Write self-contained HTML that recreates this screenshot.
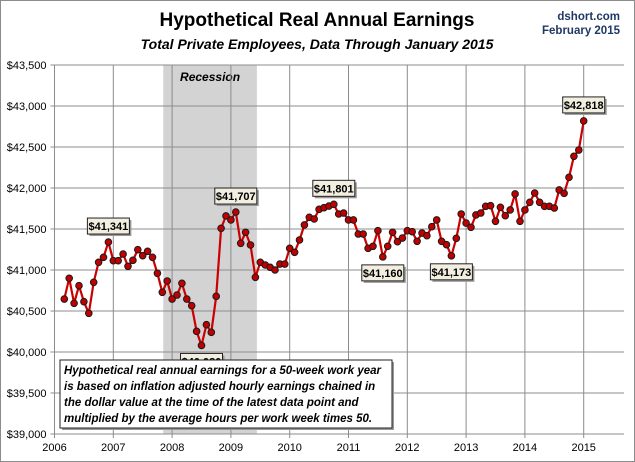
<!DOCTYPE html>
<html><head><meta charset="utf-8"><style>
body{margin:0;background:#fff;}
svg{display:block;font-family:"Liberation Sans",sans-serif;}
</style></head><body>
<svg id="chart" width="635" height="462" viewBox="0 0 635 462" xmlns="http://www.w3.org/2000/svg">
<rect x="0.5" y="0.5" width="634" height="461" fill="#fff" stroke="#8c8c8c"/>
<text x="317" y="26" text-anchor="middle" font-size="19" font-weight="bold" fill="#000">Hypothetical Real Annual Earnings</text>
<text x="317" y="49" text-anchor="middle" font-size="14" font-weight="bold" font-style="italic" fill="#000">Total Private Employees, Data Through January 2015</text>
<text x="620" y="20" text-anchor="end" font-size="11.5" font-weight="bold" fill="#1f3864">dshort.com</text>
<text x="620" y="34" text-anchor="end" font-size="11.5" font-weight="bold" fill="#1f3864">February 2015</text>
<g id="plot"></g>
</svg>
<script>
const yTickValues=[39000,39500,40000,40500,41000,41500,42000,42500,43000,43500];
const yTickLabels=["$39,000","$39,500","$40,000","$40,500","$41,000","$41,500","$42,000","$42,500","$43,000","$43,500"];
const xTickYears=[2006,2007,2008,2009,2010,2011,2012,2013,2014,2015];
const startMonthIndex=2; // March 2006
const earnings=[40646,40899,40594,40809,40614,40472,40850,41094,41155,41341,41114,41114,41195,41045,41118,41248,41175,41228,41155,40960,40728,40866,40646,40695,40838,40646,40565,40252,40080,40333,40240,40679,41509,41660,41610,41707,41326,41460,41305,40911,
41094,41061,41033,41000,41073,41073,41264,41216,41366,41549,41643,41622,41740,41760,41780,41801,41683,41695,41610,41610,41439,41439,41264,41289,41479,41160,41289,41460,41345,41390,41479,41467,41350,41451,41418,
41528,41610,41350,41309,41173,41386,41683,41573,41521,41671,41695,41777,41784,41594,41765,41662,41732,41927,41594,41732,41826,41939,41826,41777,41777,41756,41976,41935,42130,42387,42463,42818];
const recession=[22.2,41.3]; // Dec 2007 - Jun 2009 in months since Jan 2006
const callouts=[[9,"$41,341","above"],[35,"$41,707","above"],[55,"$41,801","above"],[65,"$41,160","below"],[79,"$41,173","below"],[106,"$42,818","above"],[28,"$40,080","below"]];

const NS="http://www.w3.org/2000/svg";
const X0=54.5,X1=624,PXM=4.9,YT=65,YB=434;
const xs=m=>X0+m*PXM;
const ys=v=>YB-(v-39000)/4500*(YB-YT);
const plot=document.getElementById('plot');
function mk(tag,attrs,parent){const e=document.createElementNS(NS,tag);for(const k in attrs)e.setAttribute(k,attrs[k]);(parent||plot).appendChild(e);return e;}

let r=mk('rect',{x:xs(recession[0]),y:YT,width:xs(recession[1])-xs(recession[0]),height:YB-YT,fill:'#d3d3d3'});


let rt=mk('text',{x:(xs(recession[0])+xs(recession[1]))/2,y:YT+16,'text-anchor':'middle','font-size':12,'font-weight':'bold','font-style':'italic',fill:'#000'});
rt.textContent='Recession';



yTickValues.forEach((v,i)=>{
  let g=mk('line',{x1:X0-4,x2:X1,y1:ys(v),y2:ys(v),stroke:'#8c8c8c','stroke-width':1});
  
  
  let t=mk('text',{x:X0-8,y:ys(v)+4,'text-anchor':'end','font-size':11,fill:'#000'});
  t.textContent=yTickLabels[i];
  
  
});
xTickYears.forEach(yr=>{
  const x=xs((yr-2006)*12);
  let g=mk('line',{x1:x,x2:x,y1:YT,y2:YB+4,stroke:'#8c8c8c','stroke-width':1});
  
  
  let t=mk('text',{x:x,y:YB+17,'text-anchor':'middle','font-size':11,fill:'#000'});
  t.textContent=String(yr);
  
  
});

const pts=earnings.map((v,i)=>[xs(startMonthIndex+i),ys(v)]);
let line=mk('polyline',{points:pts.map(p=>p.join(',')).join(' '),fill:'none',stroke:'#cc0000','stroke-width':2.2,'stroke-linejoin':'round'});


pts.forEach(p=>{
  let c=mk('circle',{cx:p[0],cy:p[1],r:3.3,fill:'#c00000',stroke:'#1a1a1a','stroke-width':1});
  
  
});

callouts.forEach(([i,label,pos])=>{
  const p=pts[i];
  const w=42,h=16;
  const bx=p[0]-w/2, by=pos==='above'?p[1]-h-8:p[1]+8;
  const g=mk('g',{});
  
  
  mk('rect',{x:bx+2,y:by+2,width:w,height:h,fill:'#999'},g);
  mk('rect',{x:bx,y:by,width:w,height:h,fill:'#f3efe0',stroke:'#222','stroke-width':1},g);
  const t=mk('text',{x:p[0],y:by+12,'text-anchor':'middle','font-size':11,'font-weight':'bold',fill:'#000'},g);
  t.textContent=label;
});

const note=mk('g',{});


mk('rect',{x:62,y:362,width:332,height:68,fill:'#999'},note);
mk('rect',{x:60,y:360,width:332,height:68,fill:'#fff',stroke:'#222','stroke-width':1},note);
["Hypothetical real annual earnings for a 50-week work year","is based on inflation adjusted hourly earnings chained in","the dollar value at the time of the latest data point and","multiplied by the average hours per work week times 50."].forEach((s,k)=>{
  const t=mk('text',{x:64,y:374+k*16,'font-size':11.5,'font-weight':'bold','font-style':'italic',fill:'#000'},note);
  t.textContent=s;
});
</script>
</body></html>
